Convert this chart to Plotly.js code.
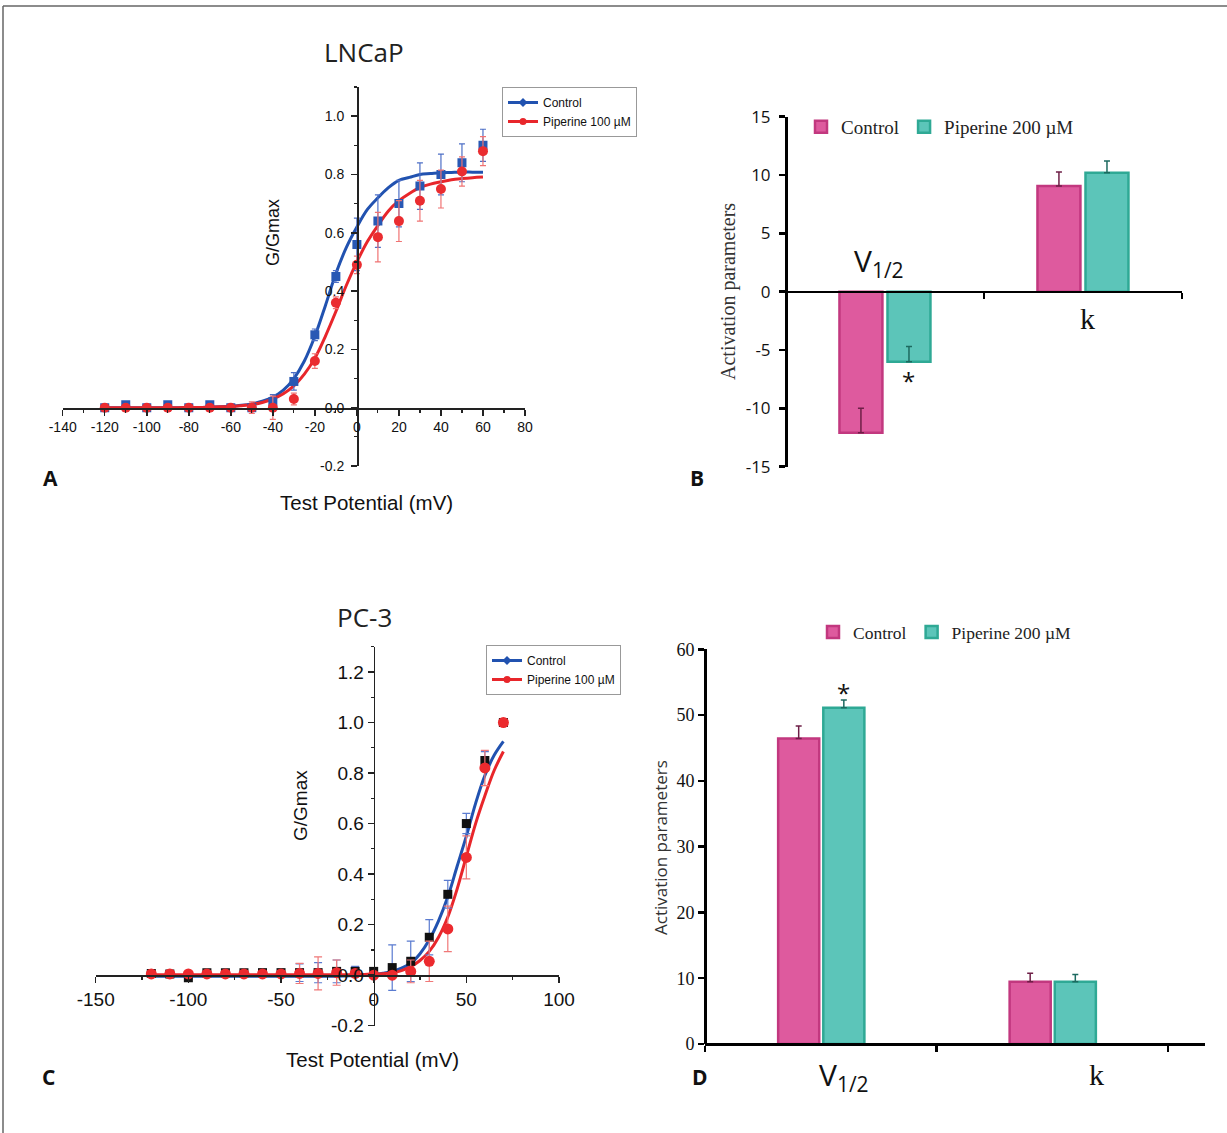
<!DOCTYPE html>
<html><head><meta charset="utf-8">
<script src="https://cdn.plot.ly/plotly-3.0.1.min.js"></script>
<style>html,body{margin:0;padding:0;background:#fff}#chart{width:1227px;height:1133px}</style>
</head><body><div id="chart"></div>
<script>
// ---------- Panel A: LNCaP G/Gmax ----------
const lncapV = [-120,-110,-100,-90,-80,-70,-60,-50,-40,-30,-20,-10,0,10,20,30,40,50,60];
const lncapControl = [0,0.01,0,0.01,0,0.01,0,0,0.02,0.09,0.25,0.45,0.56,0.64,0.70,0.76,0.80,0.84,0.90];
const lncapControlErr = [0.005,0.005,0.005,0.005,0.005,0.005,0.005,0.01,0.025,0.03,0.02,0.02,0.09,0.09,0.08,0.08,0.07,0.065,0.055];
const lncapPip = [0,0,0,0,0,0,0,0,0,0.03,0.16,0.36,0.49,0.585,0.64,0.71,0.75,0.81,0.88];
const lncapPipErr = [0.005,0.005,0.005,0.005,0.005,0.005,0.01,0.02,0.04,0.02,0.025,0.02,0.03,0.085,0.07,0.07,0.065,0.05,0.05];
const lncapFitV = [-120,-115,-110,-105,-100,-95,-90,-85,-80,-75,-70,-65,-60,-55,-50,-45,-40,-35,-30,-25,-20,-15,-10,-5,0,5,10,15,20,25,30,35,40,45,50,55,60];
const lncapFitControl = [0,0,0,0,0,0,0,0,0.001,0.001,0.002,0.003,0.005,0.008,0.013,0.022,0.036,0.06,0.10,0.16,0.245,0.35,0.46,0.55,0.62,0.68,0.72,0.755,0.78,0.79,0.80,0.803,0.806,0.807,0.808,0.808,0.808];
const lncapFitPip = [0,0,0,0,0,0,0,0,0.001,0.001,0.002,0.003,0.004,0.007,0.011,0.018,0.03,0.048,0.075,0.115,0.17,0.245,0.33,0.42,0.50,0.57,0.625,0.675,0.71,0.735,0.755,0.767,0.775,0.782,0.786,0.789,0.791];
const lncapXTicks = [-140,-120,-100,-80,-60,-40,-20,0,20,40,60,80];
const lncapXTickText = ['-140','-120','-100','-80','-60','-40','-20','0','20','40','60','80'];
const lncapYTicks = [-0.2,0,0.2,0.4,0.6,0.8,1.0];
const lncapYTickText = ['-0.2','0.0','0.2','0.4','0.6','0.8','1.0'];

// ---------- Panel C: PC-3 G/Gmax ----------
const pc3V = [-120,-110,-100,-90,-80,-70,-60,-50,-40,-30,-20,-10,0,10,20,30,40,50,60,70];
const pc3Control = [0.007,0.005,-0.01,0.01,0.01,0.01,0.01,0.01,0.01,0.01,0.015,0.015,0.015,0.03,0.055,0.15,0.32,0.60,0.85,1.0];
const pc3ControlErr = [0.005,0.005,0.005,0.005,0.005,0.005,0.005,0.005,0.035,0.04,0.045,0.02,0.015,0.09,0.08,0.07,0.055,0.04,0.035,0];
const pc3Pip = [0.005,0.005,0.005,0.005,0.005,0.005,0.005,0.005,0.007,0.007,0.01,0.007,0.0,0.0,0.015,0.055,0.183,0.466,0.82,1.0];
const pc3PipErr = [0.005,0.005,0.005,0.005,0.005,0.005,0.005,0.01,0.04,0.065,0.05,0.01,0.01,0.01,0.045,0.08,0.09,0.085,0.07,0];
const pc3FitV = [-120,-115,-110,-105,-100,-95,-90,-85,-80,-75,-70,-65,-60,-55,-50,-45,-40,-35,-30,-25,-20,-15,-10,-5,0,5,10,15,20,25,30,35,40,45,50,55,60,65,70];
const pc3FitControl = [-0.004,-0.004,-0.004,-0.004,-0.004,-0.004,-0.004,-0.004,-0.004,-0.004,-0.004,-0.004,-0.004,-0.004,-0.004,-0.004,-0.004,-0.004,-0.004,-0.004,-0.004,-0.003,-0.002,0.0,0.003,0.008,0.015,0.028,0.047,0.085,0.14,0.215,0.31,0.43,0.55,0.68,0.79,0.87,0.925];
const pc3FitPip = [0.002,0.002,0.002,0.002,0.002,0.002,0.002,0.002,0.002,0.002,0.002,0.002,0.002,0.002,0.002,0.002,0.002,0.002,0.002,0.002,0.002,0.002,0.002,0.003,0.004,0.006,0.009,0.018,0.034,0.058,0.094,0.15,0.23,0.34,0.47,0.6,0.71,0.81,0.885];
const pc3XTicks = [-150,-100,-50,0,50,100];
const pc3XTickText = ['-150','-100','-50','0','50','100'];
const pc3YTicks = [-0.2,0,0.2,0.4,0.6,0.8,1.0,1.2];
const pc3YTickText = ['-0.2','0.0','0.2','0.4','0.6','0.8','1.0','1.2'];

// ---------- Panels B & D: activation parameters ----------
const categories = ['V1/2','k'];
const categoryLabels = ['V<sub>1/2</sub>','k'];
const lncapBarControl = [-12.1, 9.06];
const lncapBarControlErr = [2.1, 1.2];
const lncapBarPip = [-6.0, 10.2];
const lncapBarPipErr = [1.3, 1.0];
const pc3BarControl = [46.45, 9.47];
const pc3BarControlErr = [1.9, 1.3];
const pc3BarPip = [51.1, 9.47];
const pc3BarPipErr = [1.2, 1.1];
const bYTicks = [-15,-10,-5,0,5,10,15];
const bYTickText = ['-15','-10','-5','0','5','10','15'];

const seriesNames = ['Control','Piperine 100 µM'];
const barSeriesNames = ['Control','Piperine 200 µM'];

// ---------- layout helpers ----------
const W = 1227, H = 1133;
const px = x => x / W;
const py = y => 1 - y / H;
const SANS = 'Liberation Sans, Arial, sans-serif';
const SERIF = 'Liberation Serif, Times New Roman, serif';
const MYR = 'Open Sans, Noto Sans, sans-serif';

const BLUE = '#2152b0', RED = '#e8262b';
const PINK = '#DE5A9E', PINK_L = '#C2387F', TEAL = '#5CC5B9', TEAL_L = '#2FA995';

function baseAxis(extra) {
  return Object.assign({showgrid:false, zeroline:false, showline:true, linecolor:'#222', linewidth:1.5,
    ticks:'outside', ticklen:6, tickwidth:1.5, tickcolor:'#222', fixedrange:true}, extra);
}
function ann(text, x, y, font, extra) {
  return Object.assign({text:text, xref:'paper', yref:'paper', x:px(x), y:py(y), xanchor:'center', yanchor:'middle', showarrow:false, font:font}, extra || {});
}

const curveCommon = {mode:'lines+markers', selectedpoints:[], unselected:{marker:{opacity:0}}, hoverinfo:'skip'};

const data = [
  // Panel A curves (legend)
  Object.assign({x: lncapFitV, y: lncapFitControl, name: seriesNames[0], xaxis:'x', yaxis:'y', legend:'legend',
    line:{color:BLUE, width:3, shape:'spline'}, marker:{symbol:'diamond', size:7, color:BLUE}}, curveCommon),
  Object.assign({x: lncapFitV, y: lncapFitPip, name: seriesNames[1], xaxis:'x', yaxis:'y', legend:'legend',
    line:{color:RED, width:3, shape:'spline'}, marker:{symbol:'circle', size:7, color:RED}}, curveCommon),
  // Panel A points
  {x: lncapV, y: lncapControl, mode:'markers', xaxis:'x', yaxis:'y', showlegend:false, hoverinfo:'skip',
    marker:{symbol:'square', size:9, color:'#2858b4'},
    error_y:{type:'data', array: lncapControlErr, color:'#4d6fc6', thickness:1.2, width:3}},
  {x: lncapV, y: lncapPip, mode:'markers', xaxis:'x', yaxis:'y', showlegend:false, hoverinfo:'skip',
    marker:{symbol:'circle', size:10, color:'#ea2c30'},
    error_y:{type:'data', array: lncapPipErr, color:'#f07373', thickness:1.2, width:3}},

  // Panel C curves
  Object.assign({x: pc3FitV, y: pc3FitControl, name: seriesNames[0], xaxis:'x2', yaxis:'y2', legend:'legend2',
    line:{color:BLUE, width:3, shape:'spline'}, marker:{symbol:'diamond', size:7, color:BLUE}}, curveCommon),
  Object.assign({x: pc3FitV, y: pc3FitPip, name: seriesNames[1], xaxis:'x2', yaxis:'y2', legend:'legend2',
    line:{color:RED, width:3, shape:'spline'}, marker:{symbol:'circle', size:7, color:RED}}, curveCommon),
  // Panel C points
  {x: pc3V, y: pc3Control, mode:'markers', xaxis:'x2', yaxis:'y2', showlegend:false, hoverinfo:'skip',
    marker:{symbol:'square', size:9, color:'#111'},
    error_y:{type:'data', array: pc3ControlErr, color:'#5a7bd0', thickness:1.2, width:4}},
  {x: pc3V, y: pc3Pip, mode:'markers', xaxis:'x2', yaxis:'y2', showlegend:false, hoverinfo:'skip',
    marker:{symbol:'circle', size:11, color:'#ec2a2e'},
    error_y:{type:'data', array: pc3PipErr, color:'#f07878', thickness:1.2, width:4}},

  // Panel B bars
  {type:'bar', x: categories, y: lncapBarControl, name: barSeriesNames[0], xaxis:'x3', yaxis:'y3', legend:'legend3',
    width:[0.217,0.217], offset:-0.23, hoverinfo:'skip',
    marker:{color:PINK, line:{color:PINK_L, width:2.5}},
    error_y:{type:'data', symmetric:false, array: lncapBarControlErr, arrayminus:[0,0], color:'#6e1f47', thickness:1.5, width:3}},
  {type:'bar', x: categories, y: lncapBarPip, name: barSeriesNames[1], xaxis:'x3', yaxis:'y3', legend:'legend3',
    width:[0.217,0.217], offset:0.0126, hoverinfo:'skip',
    marker:{color:TEAL, line:{color:TEAL_L, width:2.5}},
    error_y:{type:'data', symmetric:false, array: lncapBarPipErr, arrayminus:[0,0], color:'#1d6a60', thickness:1.5, width:3}},

  // Panel D bars
  {type:'bar', x: categories, y: pc3BarControl, name: barSeriesNames[0], xaxis:'x4', yaxis:'y4', legend:'legend4',
    width:[0.1775,0.1775], offset:-0.184, hoverinfo:'skip',
    marker:{color:PINK, line:{color:PINK_L, width:2.5}},
    error_y:{type:'data', symmetric:false, array: pc3BarControlErr, arrayminus:[0,0], color:'#6e1f47', thickness:1.5, width:3}},
  {type:'bar', x: categories, y: pc3BarPip, name: barSeriesNames[1], xaxis:'x4', yaxis:'y4', legend:'legend4',
    width:[0.1775,0.1775], offset:0.011, hoverinfo:'skip',
    marker:{color:TEAL, line:{color:TEAL_L, width:2.5}},
    error_y:{type:'data', symmetric:false, array: pc3BarPipErr, arrayminus:[0,0], color:'#1d6a60', thickness:1.5, width:3}}
];

const lineTick = (size) => ({family:SANS, size:size, color:'#111'});
const minorA = (dt) => ({dtick:dt, tick0:0, ticklen:3, ticks:'outside', tickcolor:'#222', tickwidth:1.2});

const layout = {
  width: W, height: H, autosize:false, margin:{l:0,r:0,t:0,b:0},
  paper_bgcolor:'#fff', plot_bgcolor:'rgba(0,0,0,0)', barmode:'overlay', showlegend:true,
  font:{family:SANS, color:'#111'},
  // Panel A
  xaxis: baseAxis({domain:[px(62.7), px(525)], range:[-140,80], anchor:'free', position:py(408),
    tickmode:'array', tickvals:lncapXTicks, ticktext:lncapXTickText, minor:minorA(10), tickfont:lineTick(14)}),
  yaxis: baseAxis({domain:[py(466), py(87)], range:[-0.2,1.1], anchor:'free', position:px(357),
    tickmode:'array', tickvals:lncapYTicks, ticktext:lncapYTickText, ticklabelstandoff:4, minor:minorA(0.1), tickfont:lineTick(14)}),
  // Panel C
  xaxis2: baseAxis({domain:[px(95.7), px(559)], range:[-150,100], anchor:'free', position:py(975.2),
    tickmode:'array', tickvals:pc3XTicks, ticktext:pc3XTickText, minor:minorA(25), tickfont:lineTick(19)}),
  yaxis2: baseAxis({domain:[py(1025.7), py(646.7)], range:[-0.2,1.3], anchor:'free', position:px(373.6),
    tickmode:'array', tickvals:pc3YTicks, ticktext:pc3YTickText, minor:minorA(0.1), tickfont:lineTick(19)}),
  // Panel B
  xaxis3: baseAxis({domain:[px(786), px(1182)], range:[-0.5,1.5], type:'category', anchor:'free', position:py(291.7),
    linecolor:'#000', linewidth:2.5, tickson:'boundaries', ticklen:6, tickwidth:2.5, tickcolor:'#000', showticklabels:false}),
  yaxis3: baseAxis({domain:[py(466.7), py(116.7)], range:[-15,15], anchor:'free', position:px(786),
    tickmode:'array', tickvals:bYTicks, ticktext:bYTickText, ticklabelstandoff:5,
    linecolor:'#000', linewidth:3, ticklen:6, tickwidth:2.5, tickcolor:'#000', tickfont:{family:MYR, size:17, color:'#111'}}),
  // Panel D
  xaxis4: baseAxis({domain:[px(705), px(1205)], range:[-0.5,1.66], type:'category', anchor:'free', position:py(1044),
    linecolor:'#000', linewidth:2.5, tickson:'boundaries', ticklen:6, tickwidth:2.5, tickcolor:'#000', showticklabels:false}),
  yaxis4: baseAxis({domain:[py(1044), py(649.3)], range:[0,60], dtick:10, anchor:'free', position:px(705),
    linecolor:'#000', linewidth:3, ticklen:6, tickwidth:2.5, tickcolor:'#000', tickfont:{family:SERIF, size:18, color:'#111'}}),

  legend: {x:px(502), y:py(87), xanchor:'left', yanchor:'top', bordercolor:'#999', borderwidth:1, bgcolor:'#fff',
    font:{family:SANS, size:12, color:'#111'}, tracegroupgap:0, itemwidth:30},
  legend2: {x:px(486), y:py(645), xanchor:'left', yanchor:'top', bordercolor:'#999', borderwidth:1, bgcolor:'#fff',
    font:{family:SANS, size:12, color:'#111'}, tracegroupgap:0, itemwidth:30},
  legend3: {x:px(801), y:py(127), xanchor:'left', yanchor:'middle', orientation:'h', bgcolor:'rgba(0,0,0,0)', borderwidth:0,
    font:{family:SERIF, size:19, color:'#222'}},
  legend4: {x:px(813), y:py(632), xanchor:'left', yanchor:'middle', orientation:'h', bgcolor:'rgba(0,0,0,0)', borderwidth:0,
    font:{family:SERIF, size:17.5, color:'#222'}},

  shapes: [
    {type:'line', xref:'paper', yref:'paper', x0:px(3), x1:1, y0:py(6), y1:py(6), line:{color:'#666', width:1.5}},
    {type:'line', xref:'paper', yref:'paper', x0:px(3), x1:px(3), y0:py(6), y1:0, line:{color:'#666', width:1.5}}
  ],

  annotations: [
    // titles
    ann('LNCaP', 364, 52, {family:MYR, size:26, color:'#222'}),
    ann('PC-3', 364, 617, {family:MYR, size:26, color:'#222'}),
    // panel letters
    ann('<b>A</b>', 50, 478, {family:MYR, size:21, color:'#111'}),
    ann('<b>B</b>', 697, 478, {family:MYR, size:21, color:'#111'}),
    ann('<b>C</b>', 48, 1077, {family:MYR, size:21, color:'#111'}),
    ann('<b>D</b>', 700, 1077, {family:MYR, size:21, color:'#111'}),
    // axis titles A / C
    ann('G/Gmax', 273, 233, {family:SANS, size:18, color:'#111'}, {textangle:-90}),
    ann('Test Potential (mV)', 366, 502, {family:SANS, size:20.5, color:'#111'}),
    ann('G/Gmax', 300, 806, {family:SANS, size:19, color:'#111'}, {textangle:-90}),
    ann('Test Potential (mV)', 372, 1059, {family:SANS, size:20.5, color:'#111'}),
    // axis titles B / D
    ann('Activation parameters', 728, 292, {family:SERIF, size:20, color:'#333'}, {textangle:-90}),
    ann('Activation parameters', 660, 848, {family:MYR, size:17, color:'#333'}, {textangle:-90}),
    // category labels B
    ann(categoryLabels[0], 879, 262, {family:MYR, size:30, color:'#111'}),
    ann(categoryLabels[1], 1087, 318, {family:SERIF, size:30, color:'#111'}),
    // category labels D
    ann(categoryLabels[0], 844, 1076, {family:MYR, size:30, color:'#111'}),
    ann(categoryLabels[1], 1096, 1074, {family:SERIF, size:30, color:'#111'}),
    // significance stars
    {text:'*', xref:'x3', yref:'y3', x:0.121, y:lncapBarPip[0]-1.6, xanchor:'center', yanchor:'middle', showarrow:false, font:{family:MYR, size:24, color:'#111'}},
    {text:'*', xref:'x4', yref:'y4', x:0.0997, y:pc3BarPip[0]+pc3BarPipErr[0]+1.2, xanchor:'center', yanchor:'middle', showarrow:false, font:{family:MYR, size:24, color:'#111'}}
  ]
};

Plotly.newPlot('chart', data, layout, {staticPlot:true, displayModeBar:false});
</script>
</body></html>
